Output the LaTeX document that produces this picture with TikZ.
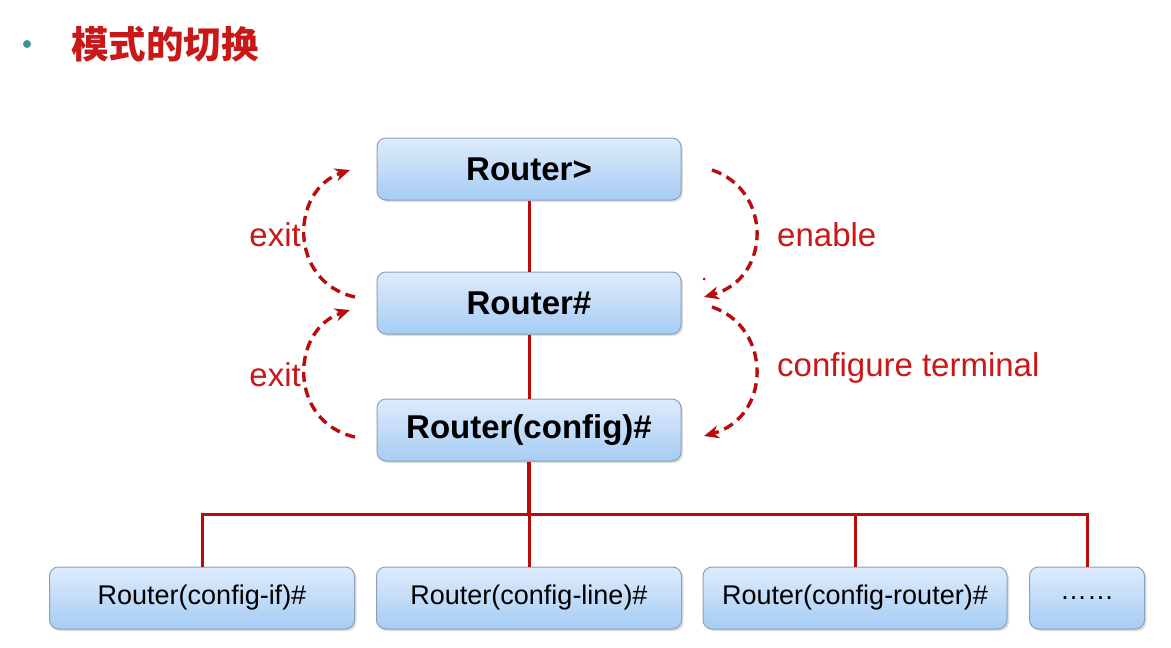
\documentclass[tikz,border=0pt]{standalone}
\usepackage{fontspec}
\setmainfont{Liberation Sans}
\newfontfamily\cjk{Noto Sans CJK SC}
\usetikzlibrary{shadows,arrows.meta}
\definecolor{lred}{RGB}{185,12,12}
\definecolor{tred}{RGB}{200,24,24}
\definecolor{boxtop}{RGB}{222,236,252}
\definecolor{boxbot}{RGB}{166,204,244}
\definecolor{boxline}{RGB}{140,160,186}
\definecolor{teal}{RGB}{58,150,150}
\tikzset{
  mode/.style={draw=boxline, line width=1pt, rounded corners=9pt,
    top color=boxtop, bottom color=boxbot, minimum height=62pt,
    drop shadow={shadow xshift=2pt, shadow yshift=-2pt, opacity=0.25, fill=gray},
    text=black, inner sep=0pt},
  big/.style={mode, minimum width=304pt, font=\fontsize{33}{36}\selectfont\bfseries},
  small/.style={mode, font=\fontsize{27}{30}\selectfont},
  link/.style={draw=lred, line width=3pt},
  switch/.style={draw=lred, line width=3.4pt, dash pattern=on 10pt off 6pt,
    -{Stealth[length=15pt,width=13pt]}},
  lbl/.style={text=tred, font=\fontsize{33}{36}\selectfont, inner sep=0pt}
}
\begin{document}
\begin{tikzpicture}[x=1pt,y=-1pt]
\useasboundingbox (0,0) rectangle (1171,648);
\fill[white] (0,0) rectangle (1171,648);
% title
\fill[teal] (27,44) circle (4pt);
\node[anchor=west, inner sep=0pt, text=tred] (title) at (71,44)
  {\fontsize{37.5}{40}\selectfont\cjk\bfseries 模式的切换};
% main boxes
\node[big] (user) at (529,169) {Router>};
\node[big] (priv) at (529,303) {Router\#};
\node[big] (conf) at (529,430) {Router(config)\#};
% sub boxes
\node[small, minimum width=305pt] (cif) at (202,598) {Router(config-if)\#};
\node[small, minimum width=305pt] (cline) at (529,598) {Router(config-line)\#};
\node[small, minimum width=304pt] (crt) at (855,598) {Router(config-router)\#};
\node[small, minimum width=115pt] (cdot) at (1087,598) {\ldots\ldots};
% links
\draw[link] (user.south) -- (priv.north);
\draw[link] (priv.south) -- (conf.north);
\coordinate (bus) at (529,514);
\draw[link, line width=4pt] (conf.south) -- (bus);
\draw[link] (cif.north) |- (bus) -| (cdot.north);
\draw[link] (cline.north) -- (cline.north |- bus);
\draw[link] (crt.north) -- (crt.north |- bus);
% switch arrows
\coordinate (e1s) at (355,297); \coordinate (e1e) at (350,170);
\coordinate (e2s) at (355,437); \coordinate (e2e) at (350,310);
\coordinate (n1s) at (712,170); \coordinate (n1e) at (704,297);
\coordinate (n2s) at (712,307); \coordinate (n2e) at (704,436);
\draw[switch] (e1s) .. controls (288,282) and (290,190) .. (e1e);
\draw[switch] (e2s) .. controls (288,422) and (290,330) .. (e2e);
\draw[switch] (n1s) .. controls (772,190) and (772,278) .. (n1e);
\draw[switch] (n2s) .. controls (772,327) and (772,417) .. (n2e);
\fill[lred] (704,279) circle (1.5pt);
% labels
\node[lbl, anchor=east] (x1) at (301,235) {exit};
\node[lbl, anchor=east] (x2) at (301,375) {exit};
\node[lbl, anchor=west] (en) at (777,235) {enable};
\node[lbl, anchor=west] (ct) at (777,368) {configure terminal};
\end{tikzpicture}
\end{document}
